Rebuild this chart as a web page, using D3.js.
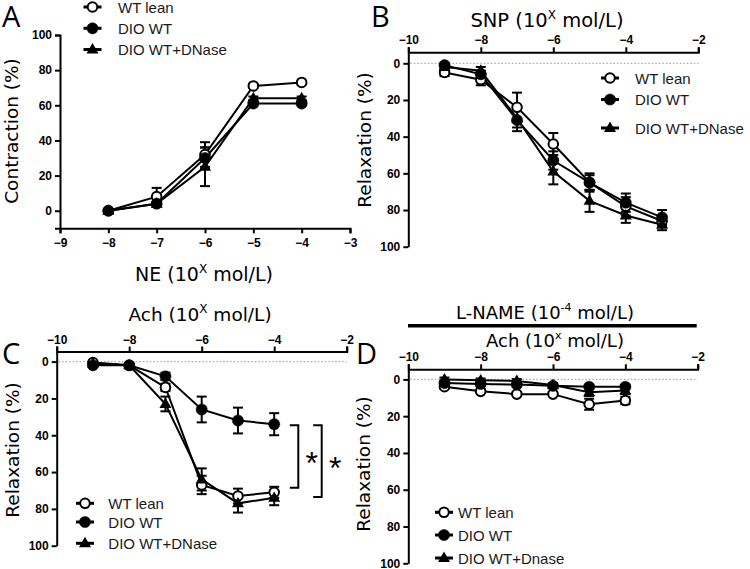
<!DOCTYPE html>
<html><head><meta charset="utf-8">
<script src="https://cdn.jsdelivr.net/npm/d3@7/dist/d3.min.js"></script>
<style>
body{margin:0;background:#fff;}
svg{display:block;}
.tick text{font-family:"Liberation Sans",Arial,sans-serif;font-weight:bold;font-size:12px;fill:#000;}
.ttl{font-family:"DejaVu Sans",sans-serif;font-size:19px;fill:#000;}
.ylab{font-family:"DejaVu Sans",sans-serif;font-size:18.5px;fill:#000;}
.leg{font-family:"Liberation Sans",Arial,sans-serif;font-size:15px;fill:#1a1a1a;}
.plab{font-family:"Open Sans",sans-serif;font-size:29px;fill:#000;}
</style></head>
<body><svg id="c" width="750" height="569"></svg>
<script>
// ---------- DATA ----------
const seriesNames = ["WT lean", "DIO WT", "DIO WT+DNase"];
const seriesNamesD = ["WT lean", "DIO WT", "DIO WT+Dnase"];

// Panel A: NE contraction
const concA = [-8, -7, -6, -5, -4];
const wtLeanA = [0, 8, 32, 71, 73];
const wtLeanAErr = [1, 5, 7, 1, 1];
const dioA = [0, 4, 30, 61, 61];
const dioAErr = [1, 1, 6, 1, 1];
const dnaseA = [0, 4, 25, 64, 64];
const dnaseAErr = [1, 1, 11, 1, 1];
const xTicksA = [-9, -8, -7, -6, -5, -4, -3];
const yTicksA = [0, 20, 40, 60, 80, 100];

// Panel B: SNP relaxation
const concB = [-9, -8, -7, -6, -5, -4, -3];
const wtLeanB = [5, 9, 24, 44, 65, 78, 86];
const wtLeanBErr = [2, 3, 8, 6, 5, 5, 3];
const dioB = [1, 6, 31, 53, 65, 76, 84];
const dioBErr = [1, 2, 6, 5, 4, 5, 4];
const dnaseB = [2, 4, 30, 59, 75, 83, 88];
const dnaseBErr = [1, 2, 5, 7, 6, 4, 3];
const xTicksBCD = [-10, -8, -6, -4, -2];
const yTicksBCD = [0, 20, 40, 60, 80, 100];

// Panel C: Ach relaxation
const concC = [-9, -8, -7, -6, -5, -4];
const wtLeanC = [0.5, 2, 14, 67, 73, 71];
const wtLeanCErr = [1, 1, 2, 5, 4, 3];
const dioC = [2, 2, 8, 26, 32, 34];
const dioCErr = [1, 1, 2, 7, 7, 6];
const dnaseC = [1, 2, 23, 64, 77, 74];
const dnaseCErr = [1, 1, 4, 6, 5, 4];
const sigBrackets = [{y1: 34.5, y2: 68.5}, {y1: 34.5, y2: 73.5}];

// Panel D: Ach relaxation with L-NAME
const concD = [-9, -8, -7, -6, -5, -4];
const wtLeanD = [4, 6.5, 8, 8, 13.5, 11.5];
const wtLeanDErr = [1, 1, 1, 1, 3, 2];
const dioD = [2, 2.5, 2.8, 3.5, 4, 4];
const dioDErr = [1, 1, 1, 1, 1, 1];
const dnaseD = [0, 0.5, 0.8, 3, 7, 6];
const dnaseDErr = [1, 1, 1, 1, 2, 2];

// ---------- DRAW ----------
const svg = d3.select("#c");
const kinds = ["open", "filled", "tri"];
const fmt = d3.format("d");

function triPath(s) {
  const h = s * Math.sqrt(3) / 2;
  return `M0,${-h*0.62}L${s/2},${h*0.38}L${-s/2},${h*0.38}Z`;
}
function marker(g, kind, x, y) {
  if (kind === "tri") {
    g.append("path").attr("d", triPath(12)).attr("transform", `translate(${x},${y})`).attr("fill", "#000");
  } else {
    g.append("circle").attr("cx", x).attr("cy", y).attr("r", kind === "open" ? 4.8 : 5.6)
      .attr("fill", kind === "open" ? "#fff" : "#000").attr("stroke", "#000").attr("stroke-width", kind === "open" ? 2 : 0.5);
  }
}

function drawSeries(g, xs, ys, conc, vals, errs) {
  g.append("path").datum(conc.map((c, i) => [c, vals[i]]))
    .attr("d", d3.line().x(d => xs(d[0])).y(d => ys(d[1])))
    .attr("fill", "none").attr("stroke", "#000").attr("stroke-width", 2);
  conc.forEach((c, i) => {
    const x = xs(c), y1 = ys(vals[i] - errs[i]), y2 = ys(vals[i] + errs[i]);
    g.append("line").attr("x1", x).attr("x2", x).attr("y1", y1).attr("y2", y2).attr("stroke", "#000").attr("stroke-width", 2);
    [y1, y2].forEach(yy => g.append("line").attr("x1", x - 5).attr("x2", x + 5).attr("y1", yy).attr("y2", yy).attr("stroke", "#000").attr("stroke-width", 2));
  });
}
function drawMarkers(g, xs, ys, conc, vals, kind) {
  conc.forEach((c, i) => marker(g, kind, xs(c), ys(vals[i])));
}

function legend(g, x, ys, tx, names) {
  names.forEach((n, i) => {
    g.append("line").attr("x1", x - 9).attr("x2", x + 9).attr("y1", ys[i]).attr("y2", ys[i]).attr("stroke", "#000").attr("stroke-width", 3);
    marker(g, kinds[i], x, ys[i]);
    g.append("text").attr("class", "leg").attr("x", tx).attr("y", ys[i] + 5.5).text(n);
  });
}

function conc10(sel, prefix, sup, suffix, supSize) {
  sel.text(null);
  sel.append("tspan").text(prefix);
  sel.append("tspan").attr("dy", -8).attr("font-size", (supSize || 12) + "px").text(sup);
  sel.append("tspan").attr("dy", 8).text(suffix);
}

function styleAxis(ax) {
  ax.select(".domain").attr("stroke-width", 2);
  ax.selectAll(".tick line").attr("stroke-width", 2);
}

function zeroLine(g, xs, ys) {
  g.append("line").attr("x1", xs.range()[0] + 2).attr("x2", xs.range()[1]).attr("y1", ys(0)).attr("y2", ys(0))
    .attr("stroke", "#aaa").attr("stroke-width", 1.2).attr("stroke-dasharray", "1.5,2");
}

function panelRelax(cfg) {
  const g = svg.append("g");
  const xs = d3.scaleLinear().domain([-10, -2]).range(cfg.xr);
  const ys = d3.scaleLinear().domain([cfg.ymin, 100]).range(cfg.yr);
  zeroLine(g, xs, ys);
  const ax = g.append("g").attr("transform", `translate(0,${cfg.yr[0]})`)
    .call(d3.axisTop(xs).tickValues(xTicksBCD).tickFormat(fmt).tickSize(5).tickPadding(3).tickSizeOuter(5));
  const ay = g.append("g").attr("transform", `translate(${cfg.xr[0]},0)`)
    .call(d3.axisLeft(ys).tickValues(yTicksBCD).tickFormat(fmt).tickSize(5).tickPadding(3).tickSizeOuter(0));
  styleAxis(ax); styleAxis(ay);
  cfg.series.forEach((s) => drawSeries(g, xs, ys, cfg.conc, s[0], s[1]));
  cfg.series.forEach((s, i) => drawMarkers(g, xs, ys, cfg.conc, s[0], kinds[i]));
  return {g, xs, ys};
}

// Panel A
(function () {
  const g = svg.append("g");
  const xs = d3.scaleLinear().domain([-9, -3]).range([60, 350]);
  const ys = d3.scaleLinear().domain([-10, 100]).range([228.3, 35]);
  const ax = g.append("g").attr("transform", `translate(0,${ys.range()[0]})`)
    .call(d3.axisBottom(xs).tickValues(xTicksA).tickFormat(fmt).tickSize(5).tickPadding(5).tickSizeOuter(5));
  const ay = g.append("g").attr("transform", `translate(60,0)`)
    .call(d3.axisLeft(ys).tickValues(yTicksA).tickFormat(fmt).tickSize(5).tickPadding(3).tickSizeOuter(5));
  styleAxis(ax); styleAxis(ay);
  const series = [[wtLeanA, wtLeanAErr], [dioA, dioAErr], [dnaseA, dnaseAErr]];
  series.forEach((s) => drawSeries(g, xs, ys, concA, s[0], s[1]));
  series.forEach((s, i) => drawMarkers(g, xs, ys, concA, s[0], kinds[i]));
  legend(g, 92.5, [7, 28.3, 49.5], 118, seriesNames);
  conc10(g.append("text").attr("class", "ttl").attr("x", 204).attr("y", 281).attr("text-anchor", "middle"), "NE (10", "X", " mol/L)");
  g.append("text").attr("class", "ylab").attr("transform", "translate(18,131) rotate(-90)").attr("text-anchor", "middle").text("Contraction (%)");
  g.append("text").attr("class", "plab").attr("x", 2).attr("y", 27).text("A");
})();

// Panel B
(function () {
  const p = panelRelax({xr: [408.3, 698.3], yr: [52.3, 246.7], ymin: -6, conc: concB,
    series: [[wtLeanB, wtLeanBErr], [dioB, dioBErr], [dnaseB, dnaseBErr]]});
  legend(p.g, 610, [78, 99.5, 128], 635, seriesNames);
  conc10(p.g.append("text").attr("class", "ttl").attr("x", 547).attr("y", 27).attr("text-anchor", "middle").style("font-size", "19.5px"), "SNP (10", "X", " mol/L)");
  p.g.append("text").attr("class", "ylab").attr("transform", "translate(371,140) rotate(-90)").attr("text-anchor", "middle").text("Relaxation (%)");
  p.g.append("text").attr("class", "plab").attr("x", 371).attr("y", 27).text("B");
})();

// Panel C
(function () {
  const p = panelRelax({xr: [56.7, 346.7], yr: [351.5, 545.7], ymin: -5.5, conc: concC,
    series: [[wtLeanC, wtLeanCErr], [dioC, dioCErr], [dnaseC, dnaseCErr]]});
  legend(p.g, 85, [503.3, 522, 543.3], 108.3, seriesNames);
  conc10(p.g.append("text").attr("class", "ttl").attr("x", 200).attr("y", 321).attr("text-anchor", "middle").style("font-size", "18.5px"), "Ach (10", "X", " mol/L)");
  p.g.append("text").attr("class", "ylab").attr("transform", "translate(19,450) rotate(-90)").attr("text-anchor", "middle").text("Relaxation (%)");
  p.g.append("text").attr("class", "plab").attr("x", 2).attr("y", 364).text("C");
  const bx = [298.3, 321.7];
  sigBrackets.forEach((b, i) => {
    const y1 = p.ys(b.y1), y2 = p.ys(b.y2), x = bx[i];
    p.g.append("path").attr("d", `M${x - 8.5},${y1}H${x}V${y2}H${x - 8.5}`).attr("fill", "none").attr("stroke", "#000").attr("stroke-width", 2);
    p.g.append("text").attr("x", x + 13.5).attr("y", (y1 + y2) / 2 + 18).attr("text-anchor", "middle")
      .attr("font-family", "Liberation Sans, Arial, sans-serif").attr("font-size", "32px").text("*");
  });
})();

// Panel D
(function () {
  const p = panelRelax({xr: [408.3, 697.7], yr: [369.3, 563.3], ymin: -5.5, conc: concD,
    series: [[wtLeanD, wtLeanDErr], [dioD, dioDErr], [dnaseD, dnaseDErr]]});
  legend(p.g, 444, [512.3, 535, 558], 458, seriesNamesD);
  conc10(p.g.append("text").attr("class", "ttl").attr("x", 555).attr("y", 347).attr("text-anchor", "middle").style("font-size", "18px"), "Ach (10", "x", " mol/L)", 11);
  conc10(p.g.append("text").attr("class", "ttl").attr("x", 545).attr("y", 319).attr("text-anchor", "middle").style("font-size", "18px"), "L-NAME (10", "-4", " mol/L)", 11);
  p.g.append("line").attr("x1", 408).attr("x2", 696.7).attr("y1", 325.7).attr("y2", 325.7).attr("stroke", "#000").attr("stroke-width", 3.5);
  p.g.append("text").attr("class", "ylab").attr("transform", "translate(370,464) rotate(-90)").attr("text-anchor", "middle").text("Relaxation (%)");
  p.g.append("text").attr("class", "plab").attr("x", 356).attr("y", 364).text("D");
})();
</script></body></html>
